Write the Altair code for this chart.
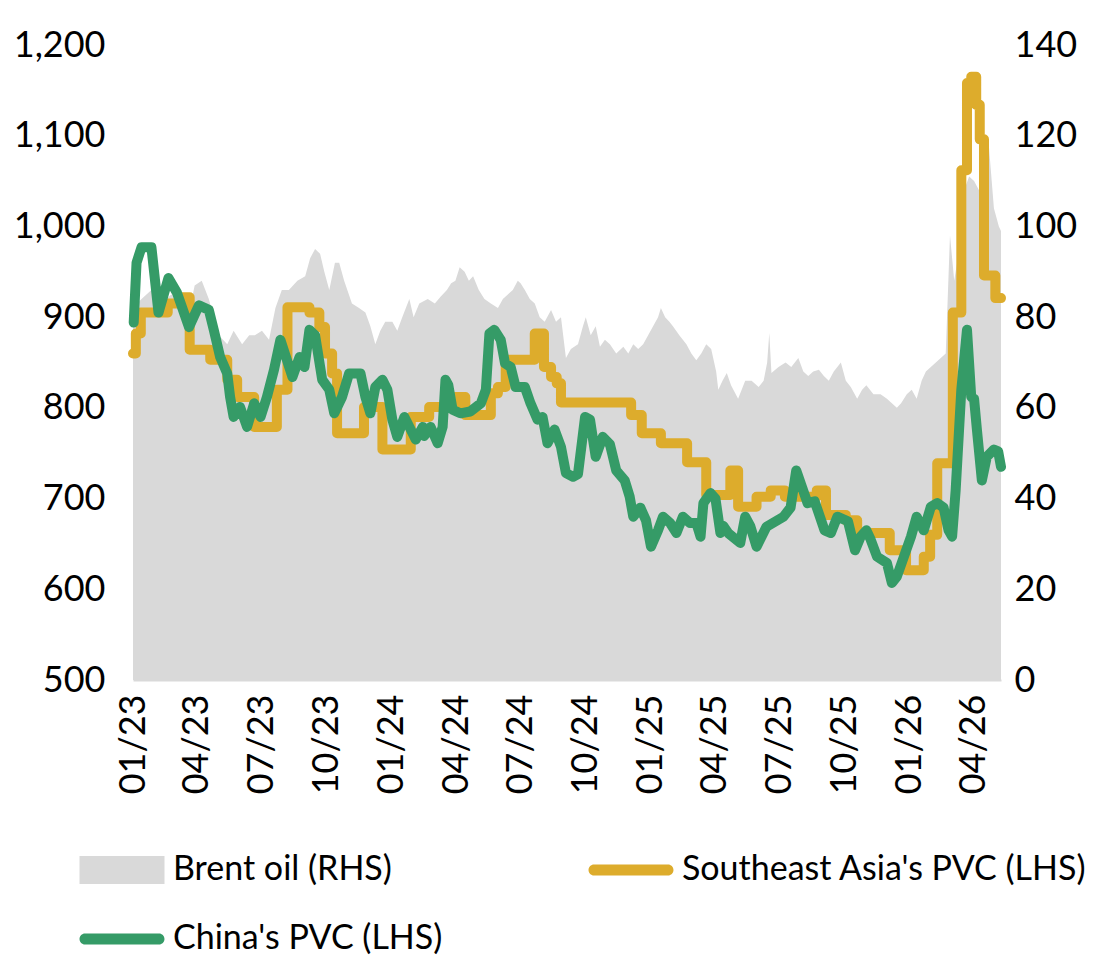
import altair as alt
import pandas as pd

# ---------------- data ----------------
brent_points = [
    ("2023-01-01", 82), ("2023-01-13", 84), ("2023-01-27", 86), ("2023-02-10", 83), ("2023-02-24", 85),
    ("2023-03-10", 84), ("2023-03-20", 80), ("2023-03-29", 87), ("2023-04-08", 88), ("2023-04-18", 84),
    ("2023-04-25", 80), ("2023-05-02", 76), ("2023-05-14", 74), ("2023-05-23", 77), ("2023-06-04", 74),
    ("2023-06-14", 76), ("2023-06-22", 76), ("2023-07-02", 77), ("2023-07-12", 75), ("2023-07-21", 82),
    ("2023-07-30", 86), ("2023-08-09", 86), ("2023-08-21", 88), ("2023-09-01", 89), ("2023-09-08", 93),
    ("2023-09-15", 95), ("2023-09-22", 94), ("2023-09-28", 90), ("2023-10-05", 86), ("2023-10-13", 92),
    ("2023-10-19", 92), ("2023-10-26", 88), ("2023-11-06", 83), ("2023-11-16", 82), ("2023-11-25", 81),
    ("2023-12-02", 78), ("2023-12-09", 74), ("2023-12-16", 77), ("2023-12-23", 79),
    ("2024-01-02", 79), ("2024-01-09", 77), ("2024-01-16", 80), ("2024-01-26", 84), ("2024-02-01", 80),
    ("2024-02-09", 83), ("2024-02-21", 84), ("2024-03-02", 83), ("2024-03-10", 84.5), ("2024-03-19", 86),
    ("2024-03-25", 87.5), ("2024-03-31", 88), ("2024-04-06", 91), ("2024-04-13", 90), ("2024-04-19", 88),
    ("2024-04-25", 89), ("2024-05-03", 86), ("2024-05-11", 84), ("2024-05-20", 83), ("2024-05-30", 82),
    ("2024-06-06", 84), ("2024-06-13", 85), ("2024-06-20", 86), ("2024-06-27", 88), ("2024-07-01", 87.5),
    ("2024-07-07", 86), ("2024-07-14", 84), ("2024-07-21", 83), ("2024-07-28", 80), ("2024-08-04", 79),
    ("2024-08-13", 81.6), ("2024-08-20", 79), ("2024-08-27", 80), ("2024-09-03", 71), ("2024-09-10", 73),
    ("2024-09-20", 74), ("2024-09-27", 78), ("2024-10-01", 80), ("2024-10-08", 76), ("2024-10-15", 78),
    ("2024-10-21", 73.5), ("2024-10-28", 75), ("2024-11-04", 74), ("2024-11-13", 72), ("2024-11-23", 73.5),
    ("2024-11-30", 72), ("2024-12-07", 74), ("2024-12-14", 73), ("2024-12-21", 74), ("2024-12-28", 76),
    ("2025-01-04", 78), ("2025-01-11", 80), ("2025-01-15", 82), ("2025-01-21", 80), ("2025-01-27", 79),
    ("2025-02-01", 78), ("2025-02-10", 76), ("2025-02-20", 74), ("2025-02-27", 72), ("2025-03-06", 70.5),
    ("2025-03-13", 72), ("2025-03-20", 74), ("2025-03-27", 73), ("2025-04-03", 68), ("2025-04-06", 64),
    ("2025-04-12", 66), ("2025-04-18", 67.7), ("2025-04-24", 65), ("2025-05-04", 62), ("2025-05-09", 64),
    ("2025-05-14", 66), ("2025-05-23", 66), ("2025-06-02", 64.6), ("2025-06-09", 66), ("2025-06-14", 70),
    ("2025-06-17", 76.5), ("2025-06-20", 67.7), ("2025-06-30", 69), ("2025-07-10", 70), ("2025-07-18", 69),
    ("2025-07-28", 71), ("2025-08-04", 68), ("2025-08-11", 67), ("2025-08-18", 68), ("2025-08-26", 68.4),
    ("2025-09-02", 67), ("2025-09-09", 66), ("2025-09-16", 68), ("2025-09-26", 70), ("2025-10-03", 66),
    ("2025-10-10", 64.6), ("2025-10-19", 62), ("2025-10-26", 64), ("2025-11-01", 65), ("2025-11-11", 63),
    ("2025-11-21", 63), ("2025-11-30", 62), ("2025-12-07", 61), ("2025-12-14", 60), ("2025-12-20", 61),
    ("2025-12-28", 63),
    ("2026-01-04", 64), ("2026-01-11", 62), ("2026-01-18", 66), ("2026-01-24", 68), ("2026-01-31", 69),
    ("2026-02-07", 70), ("2026-02-14", 71), ("2026-02-21", 72), ("2026-02-27", 98), ("2026-03-05", 88),
    ("2026-03-12", 95), ("2026-03-19", 108), ("2026-03-26", 111), ("2026-04-02", 110), ("2026-04-09", 108),
    ("2026-04-16", 112), ("2026-04-23", 117.5), ("2026-04-30", 104), ("2026-05-07", 100), ("2026-05-10", 99),
]

sea_points = [
    ("2023-01-01", 860), ("2023-01-05", 882), ("2023-01-12", 905), ("2023-02-19", 915), ("2023-03-08", 922),
    ("2023-03-22", 864), ("2023-04-20", 853), ("2023-05-14", 831), ("2023-05-28", 812), ("2023-06-21", 779),
    ("2023-07-23", 820), ("2023-08-07", 911), ("2023-09-07", 905), ("2023-09-21", 889), ("2023-09-29", 860),
    ("2023-10-09", 838), ("2023-10-16", 772), ("2023-11-23", 801), ("2023-12-19", 754), ("2024-01-28", 790),
    ("2024-02-23", 801), ("2024-03-31", 812), ("2024-04-14", 792), ("2024-05-20", 816), ("2024-05-30", 823),
    ("2024-06-10", 853), ("2024-07-21", 882), ("2024-08-03", 845), ("2024-08-13", 834), ("2024-08-21", 827),
    ("2024-08-27", 806), ("2024-12-04", 792), ("2024-12-19", 772), ("2025-01-15", 761), ("2025-02-21", 740),
    ("2025-03-20", 704), ("2025-04-23", 731), ("2025-05-04", 691), ("2025-05-30", 702), ("2025-06-19", 709),
    ("2025-07-09", 702), ("2025-08-23", 709), ("2025-09-05", 682), ("2025-10-03", 676), ("2025-10-19", 662),
    ("2025-12-04", 643), ("2025-12-27", 621), ("2026-01-21", 636), ("2026-01-30", 660), ("2026-02-09", 739),
    ("2026-03-03", 905), ("2026-03-15", 1062), ("2026-03-23", 1158), ("2026-03-29", 1165), ("2026-04-05", 1134),
    ("2026-04-10", 1096), ("2026-04-16", 946), ("2026-05-02", 921), ("2026-05-10", 921),
]

china_points = [
    ("2023-01-02", 894), ("2023-01-06", 960), ("2023-01-13", 977), ("2023-01-27", 977), ("2023-02-06", 905),
    ("2023-02-20", 943), ("2023-03-04", 927), ("2023-03-21", 889), ("2023-04-04", 913), ("2023-04-18", 908),
    ("2023-04-25", 886), ("2023-05-04", 856), ("2023-05-14", 838), ("2023-05-18", 812), ("2023-05-23", 790),
    ("2023-06-01", 801), ("2023-06-11", 779), ("2023-06-21", 805), ("2023-06-30", 790), ("2023-07-09", 812),
    ("2023-07-19", 842), ("2023-07-28", 875), ("2023-08-14", 834), ("2023-08-24", 856), ("2023-08-31", 845),
    ("2023-09-07", 886), ("2023-09-15", 880), ("2023-09-25", 831), ("2023-10-05", 820), ("2023-10-12", 794),
    ("2023-10-23", 812), ("2023-11-02", 838), ("2023-11-18", 838), ("2023-11-25", 812), ("2023-12-02", 794),
    ("2023-12-09", 823), ("2023-12-19", 831), ("2023-12-26", 820),
    ("2024-01-02", 787), ("2024-01-09", 768), ("2024-01-19", 790), ("2024-01-28", 776), ("2024-02-04", 765),
    ("2024-02-14", 779), ("2024-02-16", 769), ("2024-02-25", 779), ("2024-03-06", 761), ("2024-03-13", 779),
    ("2024-03-17", 831), ("2024-03-21", 825), ("2024-03-27", 798), ("2024-04-07", 794), ("2024-04-21", 796),
    ("2024-05-06", 805), ("2024-05-13", 820), ("2024-05-18", 882), ("2024-05-25", 886), ("2024-06-03", 875),
    ("2024-06-09", 849), ("2024-06-17", 845), ("2024-06-24", 823), ("2024-07-07", 823), ("2024-07-15", 805),
    ("2024-07-25", 787), ("2024-08-01", 790), ("2024-08-08", 761), ("2024-08-18", 776), ("2024-08-27", 757),
    ("2024-09-03", 728), ("2024-09-13", 724), ("2024-09-20", 727), ("2024-09-30", 790), ("2024-10-07", 787),
    ("2024-10-15", 746), ("2024-10-25", 768), ("2024-11-04", 760), ("2024-11-13", 731), ("2024-11-25", 720),
    ("2024-12-02", 702), ("2024-12-07", 680), ("2024-12-17", 690), ("2024-12-25", 676),
    ("2025-01-01", 647), ("2025-01-11", 665), ("2025-01-18", 680), ("2025-01-28", 673), ("2025-02-06", 662),
    ("2025-02-15", 680), ("2025-02-25", 673), ("2025-03-06", 673), ("2025-03-12", 658), ("2025-03-16", 695),
    ("2025-03-26", 706), ("2025-04-02", 700), ("2025-04-09", 662), ("2025-04-13", 670), ("2025-04-20", 662),
    ("2025-05-07", 651), ("2025-05-14", 680), ("2025-05-21", 670), ("2025-05-30", 647), ("2025-06-13", 669),
    ("2025-07-07", 680), ("2025-07-17", 690), ("2025-07-25", 731), ("2025-08-10", 695), ("2025-08-20", 697),
    ("2025-09-03", 665), ("2025-09-12", 662), ("2025-09-21", 680), ("2025-10-06", 675), ("2025-10-16", 643),
    ("2025-10-24", 658), ("2025-11-01", 665), ("2025-11-07", 655), ("2025-11-16", 636), ("2025-11-30", 629),
    ("2025-12-07", 607), ("2025-12-14", 614), ("2025-12-24", 636),
    ("2026-01-03", 658), ("2026-01-11", 680), ("2026-01-21", 665), ("2026-01-31", 691), ("2026-02-09", 695),
    ("2026-02-18", 690), ("2026-02-25", 665), ("2026-03-02", 658), ("2026-03-07", 709), ("2026-03-15", 820),
    ("2026-03-23", 886), ("2026-03-29", 812), ("2026-04-02", 810), ("2026-04-06", 776), ("2026-04-13", 720),
    ("2026-04-20", 746), ("2026-04-30", 754), ("2026-05-06", 752), ("2026-05-10", 735),
]

series_names = ["Brent oil (RHS)", "Southeast Asia's PVC (LHS)", "China's PVC (LHS)"]
series_colors = ["#D9D9D9", "#DDAC2C", "#359B67"]
quarter_ticks = [(2023, 1), (2023, 4), (2023, 7), (2023, 10), (2024, 1), (2024, 4), (2024, 7),
                 (2024, 10), (2025, 1), (2025, 4), (2025, 7), (2025, 10), (2026, 1), (2026, 4)]
left_ticks = [500, 600, 700, 800, 900, 1000, 1100, 1200]
right_ticks = [0, 20, 40, 60, 80, 100, 120, 140]

# ---------------- styling ----------------
FONT = "Lato"
AXIS_FS = 36
LEG_FS = 34

# legend symbols (unit = half of sqrt(symbolSize))
rect_sym = "M-2.576,-0.848H2.576V0.848H-2.576Z"
line_sym = ("M-2.242,-0.333H2.242A0.333,0.333 0 0 1 2.242,0.333"
            "H-2.242A0.333,0.333 0 0 1 -2.242,-0.333Z")
symbol_paths = [rect_sym, line_sym, line_sym]

brent_df = pd.DataFrame(brent_points, columns=["date", "value"])
sea_df = pd.DataFrame(sea_points, columns=["date", "value"])
china_df = pd.DataFrame(china_points, columns=["date", "value"])
legend_df = pd.DataFrame({"series": series_names})

x_scale = alt.Scale(
    type="utc", nice=False,
    domain=[alt.DateTime(year=2023, month=1, date=1, utc=True),
            alt.DateTime(year=2026, month=5, date=10, utc=True)],
)
x_axis = alt.Axis(
    values=[alt.DateTime(year=y, month=m, date=1, utc=True) for y, m in quarter_ticks],
    format="%m/%y", labelAngle=-90, labelAlign="right", labelBaseline="middle",
    labelPadding=14, tickSize=0, domainColor="#D9D9D9", domainWidth=2,
    labelFont=FONT, labelFontSize=AXIS_FS, labelColor="#000000", grid=False,
    title=None, labelOverlap=False, labelFlush=False,
)
left_axis = alt.Axis(
    orient="left", values=left_ticks, format=",d", tickSize=0, domain=False, grid=False,
    labelPadding=28, labelFont=FONT, labelFontSize=AXIS_FS, labelColor="#000000", title=None,
)
right_axis = alt.Axis(
    orient="right", values=right_ticks, tickSize=0, domain=False, grid=False,
    labelPadding=13, labelFont=FONT, labelFontSize=AXIS_FS, labelColor="#000000", title=None,
)

area = alt.Chart(brent_df).mark_area(color=series_colors[0]).encode(
    x=alt.X("date:T", scale=x_scale, axis=x_axis),
    y=alt.Y("value:Q", scale=alt.Scale(domain=[0, 140], nice=False, zero=True), axis=right_axis),
)

left_scale = alt.Scale(domain=[500, 1200], nice=False, zero=False)
sea_line = alt.Chart(sea_df).mark_line(
    color=series_colors[1], strokeWidth=10, interpolate="step-after",
    strokeJoin="round", strokeCap="round",
).encode(
    x=alt.X("date:T", scale=x_scale, axis=x_axis),
    y=alt.Y("value:Q", scale=left_scale, axis=left_axis),
)
china_line = alt.Chart(china_df).mark_line(
    color=series_colors[2], strokeWidth=10, interpolate="linear",
    strokeJoin="round", strokeCap="round",
).encode(
    x=alt.X("date:T", scale=x_scale, axis=x_axis),
    y=alt.Y("value:Q", scale=left_scale, axis=left_axis),
)
lines = alt.layer(sea_line, china_line)

legend = alt.Legend(
    title=None, orient="none", legendX=-28, legendY=808, columns=2, direction="horizontal",
    columnPadding=145, rowPadding=35, symbolSize=1089, symbolStrokeWidth=0,
    symbolOpacity=1, labelFont=FONT, labelFontSize=LEG_FS, labelColor="#000000",
    labelOffset=34, labelLimit=0, padding=0, offset=0,
)
legend_layer = alt.Chart(legend_df).mark_point(filled=True, opacity=1).encode(
    fill=alt.Fill("series:N", scale=alt.Scale(domain=series_names, range=series_colors), legend=legend),
    shape=alt.Shape("series:N", scale=alt.Scale(domain=series_names, range=symbol_paths), legend=legend),
).transform_filter("false")

chart = (
    alt.layer(area, lines, legend_layer)
    .resolve_scale(y="independent")
    .properties(width=868, height=635,
                padding={"left": 5, "top": 19, "right": 0, "bottom": 0})
    .configure_view(stroke=None)
)

chart.save("out.html", embed_options={"renderer": "svg", "actions": False})
